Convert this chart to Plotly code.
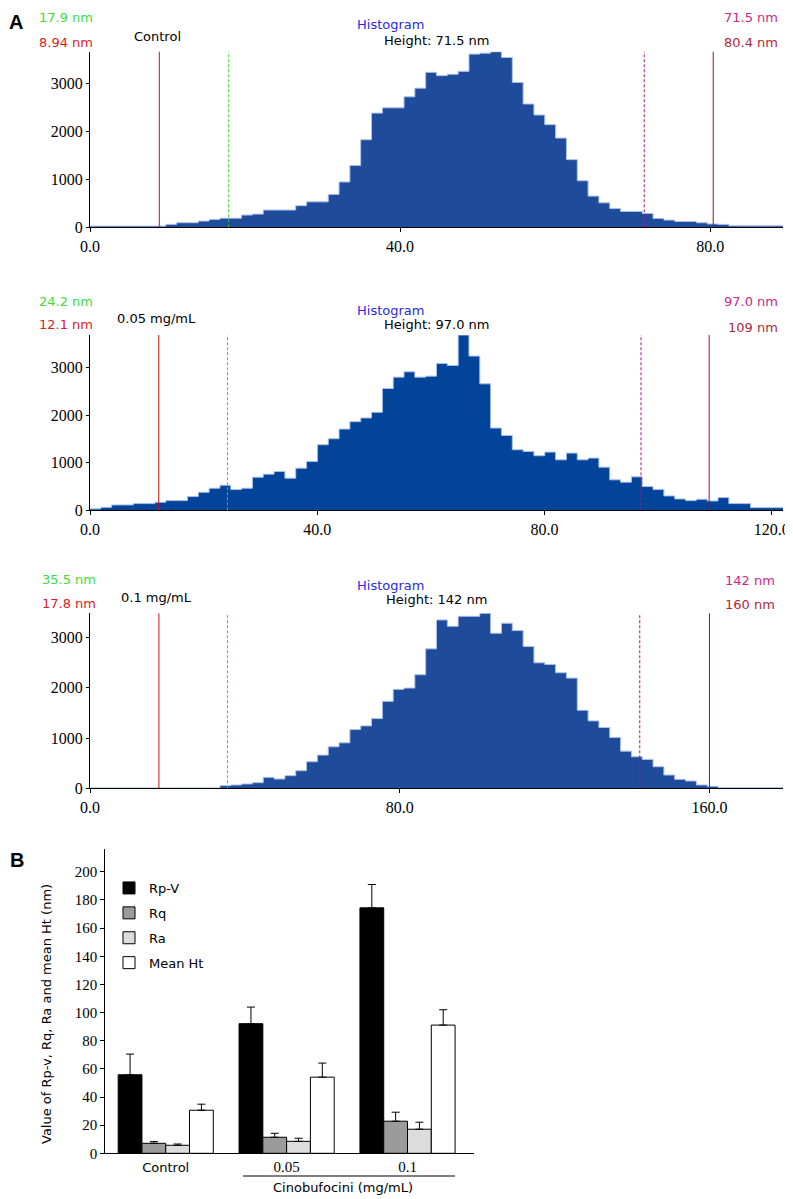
import numpy as np
import plotly.graph_objects as go

# ---------------- data ----------------
# Histogram A: counts per bin (64 bins spanning 0..max height)
ctrl_counts = [25, 25, 25, 25, 25, 25, 25, 60, 95, 95,
               130, 165, 190, 190, 255, 275, 360, 360, 360, 450,
               530, 530, 685, 945, 1290, 1825, 2380, 2490, 2490, 2720,
               2900, 3230, 3160, 3190, 3250, 3610, 3630, 3660, 3540, 3020,
               2570, 2340, 2140, 1860, 1410, 970, 650, 510, 390, 330,
               330, 290, 185, 150, 120, 120, 95, 70, 60, 30,
               30, 30, 30, 30]
c005_counts = [30, 63, 113, 113, 141, 141, 169, 204, 204, 289,
               380, 465, 528, 437, 465, 697, 761, 817, 676, 887,
               1028, 1380, 1507, 1711, 1866, 1944, 2063, 2563, 2803, 2915,
               2803, 2824, 3092, 3049, 3690, 3246, 2662, 1732, 1577, 1275,
               1239, 1148, 1225, 1063, 1204, 1063, 1099, 908, 641, 592,
               704, 500, 437, 303, 239, 204, 232, 197, 268, 141,
               141, 56, 56, 56]
c01_counts = [8, 8, 8, 8, 8, 8, 8, 8, 8, 8,
              8, 8, 53, 66, 86, 112, 218, 185, 251, 350,
              528, 660, 825, 904, 1168, 1241, 1386, 1729, 1967, 1993,
              2257, 2772, 3347, 3221, 3419, 3419, 3479, 3083, 3281, 3135,
              2818, 2495, 2462, 2297, 2191, 1551, 1340, 1208, 1010, 739,
              627, 574, 429, 264, 178, 145, 66, 40, 13, 13,
              13, 13, 13, 13]

hist_max_nm = [89.4, 122.0, 179.0]
hist_labels = ["Control", "0.05 mg/mL", "0.1 mg/mL"]
hist_heights = ["71.5 nm", "97.0 nm", "142 nm"]
# marker lines: 10 %, 20 %, 80 %, 90 %
ctrl_marks = [8.94, 17.9, 71.5, 80.4]
c005_marks = [12.1, 24.2, 97.0, 109]
c01_marks = [17.8, 35.5, 142, 160]
ctrl_mark_text = ["8.94 nm", "17.9 nm", "71.5 nm", "80.4 nm"]
c005_mark_text = ["12.1 nm", "24.2 nm", "97.0 nm", "109 nm"]
c01_mark_text = ["17.8 nm", "35.5 nm", "142 nm", "160 nm"]
hist_xticks = [[0, 40, 80], [0, 40, 80, 120], [0, 80, 160]]
hist_yticks = [0, 1000, 2000, 3000]

# Panel B
groups = ["Control", "0.05", "0.1"]
rpv = [55.8, 92.1, 174.4]
rpv_err = [14.7, 11.8, 16.6]
rq = [7.1, 11.4, 22.8]
rq_err = [1.2, 2.8, 6.4]
ra = [5.7, 8.5, 17.1]
ra_err = [0.9, 2.2, 5.0]
mean_ht = [30.6, 54.1, 91.1]
mean_ht_err = [4.3, 10.0, 10.9]

# ---------------- helpers ----------------
# the page body adds an 8 px margin, so the figure is drawn 8 px smaller and
# positions are given in page pixels of the 793 x 1199 window
OFF = 8
W, H = 793 - OFF, 1199 - OFF


def fx(px):
    return (px - OFF) / W


def fy(py):
    return 1 - (py - OFF) / H


SERIF = "Liberation Serif"
SANS = "DejaVu Sans"

fig = go.Figure()

panels = [
    dict(counts=ctrl_counts, marks=ctrl_marks, mtext=ctrl_mark_text, top=51.7, bot=227.3,
         fill="#1f4b9b", ty=[18, 42], label_y=37, label_x=132, hist_y=[24, 40], right_y=[18, 43], right_x=780, left_x=95),
    dict(counts=c005_counts, marks=c005_marks, mtext=c005_mark_text, top=335.0, bot=510.3,
         fill="#03449b", ty=[301, 325], label_y=318, label_x=115, hist_y=[310, 325], right_y=[302, 327], right_x=780, left_x=95),
    dict(counts=c01_counts, marks=c01_marks, mtext=c01_mark_text, top=613.3, bot=788.3,
         fill="#1f4b9b", ty=[579, 603], label_y=597, label_x=119, hist_y=[585, 600], right_y=[580, 604], right_x=777, left_x=98),
]

annotations = []
shapes = []
line_styles = [("#cc1111", "solid"), ("#2fcc2f", "3px,2px"), ("#9e1880", "3px,2px"), ("#8e1a2e", "solid")]
text_colors = ["#e01b1b", "#3ddc3d", "#cc2a85", "#b0283a"]

for i, p in enumerate(panels):
    n = i + 1
    xa = "x" if n == 1 else f"x{n}"
    ya = "y" if n == 1 else f"y{n}"
    counts = p["counts"]
    xmax = hist_max_nm[i]
    edges = np.linspace(0, xmax, len(counts) + 1)
    ys = list(counts) + [counts[-1]]
    fig.add_trace(go.Scatter(
        x=edges, y=ys, mode="lines", line=dict(shape="hv", color="#a9c0ea", width=1),
        fill="tozeroy", fillcolor=p["fill"], xaxis=xa, yaxis=ya, showlegend=False,
        hoverinfo="skip"))
    fig.layout[f"xaxis{n}"] = dict(
        domain=[fx(90), fx(783)], range=[0, xmax], anchor=ya, showline=True, linecolor="black",
        linewidth=1, tickvals=hist_xticks[i], ticktext=[f"{t:.1f}" for t in hist_xticks[i]],
        ticks="outside", ticklen=4, tickcolor="black", showgrid=False, zeroline=False,
        ticklabeloverflow="allow",
        tickfont=dict(family=SERIF, size=16, color="black"), fixedrange=True)
    fig.layout[f"yaxis{n}"] = dict(
        domain=[fy(p["bot"]), fy(p["top"])], range=[0, max(counts)], anchor=xa, showline=True,
        linecolor="black", linewidth=1, tickvals=hist_yticks, ticks="outside", ticklen=3,
        tickcolor="black", showgrid=False, zeroline=False,
        tickfont=dict(family=SERIF, size=16, color="black"), fixedrange=True)
    for v, (c, d) in zip(p["marks"], line_styles):
        shapes.append(dict(type="line", xref=xa, yref=f"{ya} domain", x0=v, x1=v, y0=0, y1=1,
                           line=dict(color=c, width=1, dash=d)))
    # left labels (green = 20 %, red = 10 %)
    annotations.append(dict(text=p["mtext"][1], x=fx(p["left_x"]), y=fy(p["ty"][0]), xanchor="right",
                            font=dict(color=text_colors[1], family=SANS, size=13)))
    annotations.append(dict(text=p["mtext"][0], x=fx(p["left_x"]), y=fy(p["ty"][1]), xanchor="right",
                            font=dict(color=text_colors[0], family=SANS, size=13)))
    annotations.append(dict(text=p["mtext"][2], x=fx(p["right_x"]), y=fy(p["right_y"][0]), xanchor="right",
                            font=dict(color=text_colors[2], family=SANS, size=13)))
    annotations.append(dict(text=p["mtext"][3], x=fx(p["right_x"]), y=fy(p["right_y"][1]), xanchor="right",
                            font=dict(color=text_colors[3], family=SANS, size=13)))
    annotations.append(dict(text=hist_labels[i], x=fx(p["label_x"]), y=fy(p["label_y"]), xanchor="left",
                            font=dict(color="black", family=SANS, size=13)))
    annotations.append(dict(text="Histogram", x=fx(390), y=fy(p["hist_y"][0]), xanchor="center",
                            font=dict(color="#2a2ae0", family=SANS, size=13)))
    annotations.append(dict(text="Height: " + hist_heights[i], x=fx(436), y=fy(p["hist_y"][1]),
                            xanchor="center", font=dict(color="black", family=SANS, size=13)))

# ---------------- panel B ----------------
series = [("Rp-V", rpv, rpv_err, "#000000"),
          ("Rq", rq, rq_err, "#9b9b9b"),
          ("Ra", ra, ra_err, "#dcdcdc"),
          ("Mean Ht", mean_ht, mean_ht_err, "#ffffff")]
for k, (name, vals, errs, col) in enumerate(series):
    fig.add_trace(go.Bar(
        x=groups, y=vals, name=name, xaxis="x4", yaxis="y4", legendgroup=name,
        marker=dict(color=col, line=dict(color="black", width=1)),
        error_y=dict(type="data", symmetric=False, array=errs, arrayminus=[0] * len(errs),
                     color="black", thickness=1, width=4)))

tick_text = ['<span style="font-family:DejaVu Sans;font-size:13px">Control</span>', "0.05", "0.1"]
fig.layout["xaxis4"] = dict(
    domain=[fx(105.3), fx(474)], range=[-0.5, 2.55], anchor="y4", type="category",
    showline=True, linecolor="black", linewidth=1, ticks="", showgrid=False, zeroline=False,
    tickvals=groups, ticktext=tick_text, tickfont=dict(family=SERIF, size=15, color="black"),
    fixedrange=True)
fig.layout["yaxis4"] = dict(
    domain=[fy(1153.3), fy(849.3)], range=[0, 216], anchor="x4", showline=True, linecolor="black",
    linewidth=1, tickvals=list(range(0, 201, 20)), ticks="outside", ticklen=4, tickcolor="black",
    showgrid=False, zeroline=False, tickfont=dict(family=SERIF, size=15, color="black"),
    fixedrange=True)

annotations.append(dict(text="Value of Rp-v, Rq, Ra and mean Ht (nm)", x=fx(47), y=fy(1014),
                        textangle=-90, xanchor="center", yanchor="middle",
                        font=dict(family=SANS, size=13, color="black")))
annotations.append(dict(text="Cinobufocini (mg/mL)", x=fx(343), y=fy(1187), xanchor="center",
                        yanchor="middle", font=dict(family=SANS, size=13, color="black")))
shapes.append(dict(type="line", xref="paper", yref="paper", x0=fx(243), x1=fx(455),
                   y0=fy(1176), y1=fy(1176), line=dict(color="black", width=1)))

annotations.append(dict(text="<b>A</b>", x=fx(16), y=fy(22), xanchor="center", yanchor="middle",
                        font=dict(family="Liberation Sans", size=20, color="black")))
annotations.append(dict(text="<b>B</b>", x=fx(17), y=fy(860), xanchor="center", yanchor="middle",
                        font=dict(family="Liberation Sans", size=20, color="black")))

for a in annotations:
    a.setdefault("xref", "paper")
    a.setdefault("yref", "paper")
    a.setdefault("yanchor", "middle")
    a["showarrow"] = False

fig.update_layout(
    width=W, height=H, margin=dict(l=0, r=0, t=0, b=0, autoexpand=False),
    paper_bgcolor="white", plot_bgcolor="white",
    barmode="group", bargap=0.213, bargroupgap=0,
    annotations=annotations, shapes=shapes,
    showlegend=True,
    legend=dict(x=fx(109), y=fy(873), xanchor="left", yanchor="top",
                font=dict(family=SANS, size=13, color="black"), tracegroupgap=5,
                bgcolor="rgba(0,0,0,0)", traceorder="grouped"),
    font=dict(family=SANS, color="black"),
)

fig.write_html("out.html")
